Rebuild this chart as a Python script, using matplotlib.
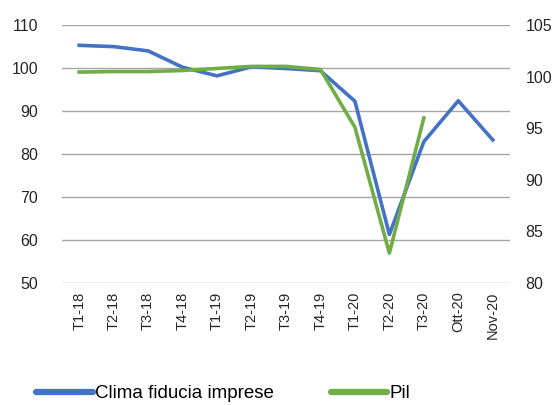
import matplotlib.pyplot as plt
from matplotlib.lines import Line2D

# dati
periodi = ['T1-18', 'T2-18', 'T3-18', 'T4-18', 'T1-19', 'T2-19', 'T3-19',
           'T4-19', 'T1-20', 'T2-20', 'T3-20', 'Ott-20', 'Nov-20']
clima = [105.3, 105.0, 104.0, 100.2, 98.2, 100.3, 99.9, 99.4, 92.3, 61.3, 82.9, 92.4, 83.3]
pil = [100.45, 100.5, 100.5, 100.6, 100.8, 101.0, 101.0, 100.7, 95.1, 82.9, 96.0]

plt.rcParams['font.family'] = ['Liberation Sans', 'DejaVu Sans']

blu = '#4472C4'
verde = '#70AD47'

fig = plt.figure(figsize=(5.58, 4.05), dpi=100)
ax = fig.add_axes([0.111, 0.301, 0.803, 0.637])
ax2 = ax.twinx()

x = list(range(len(periodi)))
ax.plot(x, clima, color=blu, lw=2.6, solid_joinstyle='round')
ax2.plot(x[:len(pil)], pil, color=verde, lw=2.6, solid_joinstyle='round')

ax.set_ylim(50, 110)
ax.set_yticks(range(50, 111, 10))
ax2.set_ylim(80, 105)
ax2.set_yticks(range(80, 106, 5))
ax.set_xlim(-0.5, len(periodi) - 0.5)
ax.set_xticks(x)
ax.set_xticklabels(periodi, rotation=90)

ax.grid(axis='y', color='#a6a6a6', lw=1)
ax.set_axisbelow(True)

for a in (ax, ax2):
    for s in a.spines.values():
        s.set_visible(False)
    a.tick_params(length=0, labelsize=11.5, colors='#262626')
ax.tick_params(axis='y', pad=17)
ax2.tick_params(axis='y', pad=11)
ax.tick_params(axis='x', labelsize=10.5, pad=6)

h1 = Line2D([], [], color=blu, lw=4.5, solid_capstyle='round')
h2 = Line2D([], [], color=verde, lw=4.5, solid_capstyle='round')
fig.legend(handles=[h1, h2], labels=['Clima fiducia imprese', 'Pil'],
           loc='lower left', bbox_to_anchor=(0.035, -0.035),
           ncol=2, frameon=False, fontsize=13.5, handlelength=3.0,
           handletextpad=0.15, columnspacing=3.0)

fig.savefig('out.png', dpi=100)
